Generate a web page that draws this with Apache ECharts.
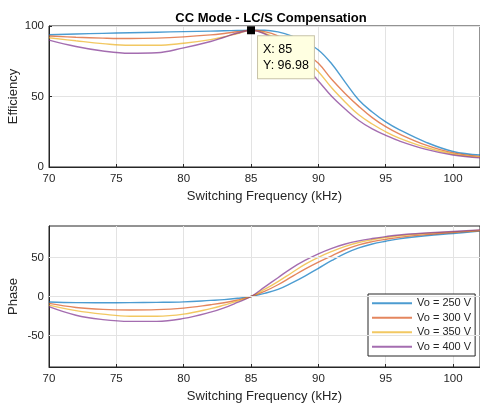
<!DOCTYPE html>
<html>
<head>
    <meta charset="utf-8">
    <title>CC Mode - LC/S Compensation</title>
    <style>
        html, body { margin: 0; padding: 0; background: #fff; }
        #main { width: 480px; height: 405px; }
    </style>
</head>
<body>
    <div id="main"></div>
    <script src="https://cdn.jsdelivr.net/npm/echarts@6/dist/echarts.min.js"></script>
    <script>
        // switching frequency (kHz)
        var freq = [70, 72, 74, 76, 78, 80, 82, 83, 84, 85, 86, 87, 88, 89, 90, 91, 92, 93, 94, 95, 96, 98, 100, 102];
        var seriesNames = ['Vo = 250 V', 'Vo = 300 V', 'Vo = 350 V', 'Vo = 400 V'];
        var colors = ['#0072BD', '#D95319', '#EDB120', '#7E2F8E'];

        // efficiency
        var eff250 = [93.8, 94.3, 94.8, 95.2, 95.6, 96, 96.4, 96.6, 96.8, 97, 97, 95.8, 93, 88.5, 83, 73, 60, 47.5, 39, 32, 26.5, 17.5, 11, 8.5];
        var eff300 = [92.9, 92, 91.4, 91.1, 91.4, 92.3, 93.7, 94.7, 95.9, 97, 96, 93, 87.5, 81, 73.5, 62, 52, 43, 35, 28.6, 23.5, 15.5, 10, 7.5];
        var eff350 = [91.7, 89.5, 87.5, 86.3, 86.3, 87.8, 90.3, 92.3, 94.7, 97, 95, 90.5, 84.5, 76.5, 67.6, 56, 46, 37, 30.5, 25, 20.5, 13.8, 9.2, 7];
        var eff400 = [90, 85.5, 82.3, 80.7, 81, 84.5, 89, 92, 95, 97, 94.5, 88.5, 81, 71.5, 61, 50, 41, 33, 27, 22.5, 18.5, 12.5, 8.5, 6.5];

        // phase
        var ph250 = [-7, -7.8, -8, -7.8, -7.5, -6.8, -5, -4, -2.3, 0, 4, 9, 17, 26, 36, 46, 55, 62, 67, 70.5, 73.5, 77.5, 80.5, 83.5];
        var ph300 = [-8.8, -14, -16.5, -17.2, -16.8, -14.8, -10.5, -8, -4.5, 0, 6.5, 15, 25, 35, 44, 52, 60, 66, 70, 73, 75.5, 79, 81.7, 84];
        var ph350 = [-11, -18, -22.5, -25.2, -25.2, -22.5, -15.5, -11, -6, 0, 9, 19, 30, 41, 50, 57.5, 64, 69, 72.5, 75.3, 77.5, 80.5, 82.5, 84.5];
        var ph400 = [-13, -24, -29.5, -31.8, -31.8, -28, -20, -14.5, -7.5, 0, 12, 24, 36, 46, 54.5, 61.5, 67, 71, 74, 76.5, 78.5, 81, 83, 85];

        var phaseTicks = [-50, 0, 50];
        var dataTip = [85, 96.98];

        var effData = [eff250, eff300, eff350, eff400];
        var phData = [ph250, ph300, ph350, ph400];

        function pairs(ys) {
            return freq.map(function (f, i) { return [f, ys[i]]; });
        }

        var fontFamily = '"Liberation Sans", Arial, sans-serif';
        var textColor = '#262626';
        var gridColor = '#e3e3e3';

        function xAxisOpt(idx) {
            return {
                type: 'value', gridIndex: idx, min: 70, max: 102, interval: 5,
                name: 'Switching Frequency (kHz)', nameLocation: 'middle', nameGap: 23, nameMoveOverlap: false,
                nameTextStyle: { fontSize: 13, color: textColor, fontFamily: fontFamily },
                axisLine: { show: true, onZero: false, lineStyle: { color: textColor, width: 1 } },
                axisTick: { show: true, inside: true, length: 3, lineStyle: { color: textColor } },
                axisLabel: {
                    fontSize: 11.5, color: textColor, fontFamily: fontFamily, margin: 6,
                    formatter: function (v) { return v % 5 === 0 ? String(v) : ''; }
                },
                splitLine: { show: true, lineStyle: { color: gridColor, width: 1 } }
            };
        }

        var option = {
            animation: false,
            backgroundColor: '#fff',
            color: colors,
            title: {
                text: 'CC Mode - LC/S Compensation',
                left: 266, top: 7, textAlign: 'center',
                textStyle: { fontSize: 13, fontWeight: 'bold', color: '#000', fontFamily: fontFamily }
            },
            legend: {
                data: seriesNames,
                orient: 'vertical',
                left: 368, top: 294,
                icon: 'rect', itemWidth: 40, itemHeight: 2, itemGap: 2,
                padding: [3, 4, 3, 4],
                backgroundColor: '#fff', borderColor: textColor, borderWidth: 1,
                itemStyle: { opacity: 0.7 },
                textStyle: { fontSize: 11, color: textColor, fontFamily: fontFamily, lineHeight: 12.5 },
                selectedMode: false
            },
            grid: [
                { left: 49, top: 26, right: 0, height: 141, show: true, borderColor: textColor, borderWidth: 1, outerBoundsMode: 'none', containLabel: false },
                { left: 49, top: 226, right: 0, height: 141, show: true, borderColor: textColor, borderWidth: 1, outerBoundsMode: 'none', containLabel: false }
            ],
            xAxis: [xAxisOpt(0), xAxisOpt(1)],
            yAxis: [
                {
                    type: 'value', gridIndex: 0, min: 0, max: 100, interval: 50,
                    name: 'Efficiency', nameLocation: 'middle', nameGap: 29, nameMoveOverlap: false,
                    nameTextStyle: { fontSize: 13, color: textColor, fontFamily: fontFamily },
                    axisLine: { show: true, lineStyle: { color: textColor } },
                    axisTick: { show: true, inside: true, length: 3, lineStyle: { color: textColor } },
                    axisLabel: { fontSize: 11.5, color: textColor, fontFamily: fontFamily, margin: 5 },
                    splitLine: { show: true, lineStyle: { color: gridColor } }
                },
                {
                    type: 'value', gridIndex: 1, min: -90, max: 90, interval: 10,
                    name: 'Phase', nameLocation: 'middle', nameGap: 29, nameMoveOverlap: false,
                    nameTextStyle: { fontSize: 13, color: textColor, fontFamily: fontFamily },
                    axisLine: { show: true, lineStyle: { color: textColor } },
                    axisTick: { show: false },
                    axisLabel: {
                        fontSize: 11.5, color: textColor, fontFamily: fontFamily, margin: 5,
                        formatter: function (v) { return phaseTicks.indexOf(v) >= 0 ? String(v) : ''; }
                    },
                    splitLine: { show: false }
                }
            ],
            series: []
        };

        // grid lines for the phase axis (only at the labelled ticks)
        option.series.push({
            type: 'line', xAxisIndex: 1, yAxisIndex: 1, data: [], z: 1, silent: true,
            markLine: {
                silent: true, symbol: 'none', label: { show: false },
                lineStyle: { color: gridColor, width: 1, type: 'solid' },
                data: phaseTicks.map(function (t) { return { yAxis: t }; })
            }
        });

        seriesNames.forEach(function (name, i) {
            var s = {
                name: name, type: 'line', xAxisIndex: 0, yAxisIndex: 0,
                data: pairs(effData[i]), smooth: 0.4, showSymbol: false, symbol: 'none',
                lineStyle: { width: 1.4, color: colors[i], opacity: 0.7 }, itemStyle: { color: colors[i] },
                emphasis: { disabled: true }, z: 2
            };
            if (i === 0) {
                s.markPoint = {
                    silent: true,
                    symbol: 'rect', symbolSize: 8,
                    itemStyle: { color: '#000' },
                    label: {
                        show: true, position: [11, 10],
                        formatter: 'X: ' + dataTip[0] + '\nY: ' + dataTip[1],
                        fontSize: 12.5, color: '#000', fontFamily: fontFamily, lineHeight: 16.5,
                        backgroundColor: '#ffffe1', borderColor: '#c8c3a8', borderWidth: 1,
                        padding: [5, 5, 4, 5], align: 'left', verticalAlign: 'top'
                    },
                    data: [{ coord: dataTip }]
                };
            }
            option.series.push(s);
        });

        seriesNames.forEach(function (name, i) {
            option.series.push({
                name: name, type: 'line', xAxisIndex: 1, yAxisIndex: 1,
                data: pairs(phData[i]), smooth: 0.4, showSymbol: false, symbol: 'none',
                lineStyle: { width: 1.4, color: colors[i], opacity: 0.7 }, itemStyle: { color: colors[i] },
                emphasis: { disabled: true }, z: 2
            });
        });

        var myChart = echarts.init(document.getElementById('main'));
        myChart.setOption(option, true);
    </script>
</body>
</html>
